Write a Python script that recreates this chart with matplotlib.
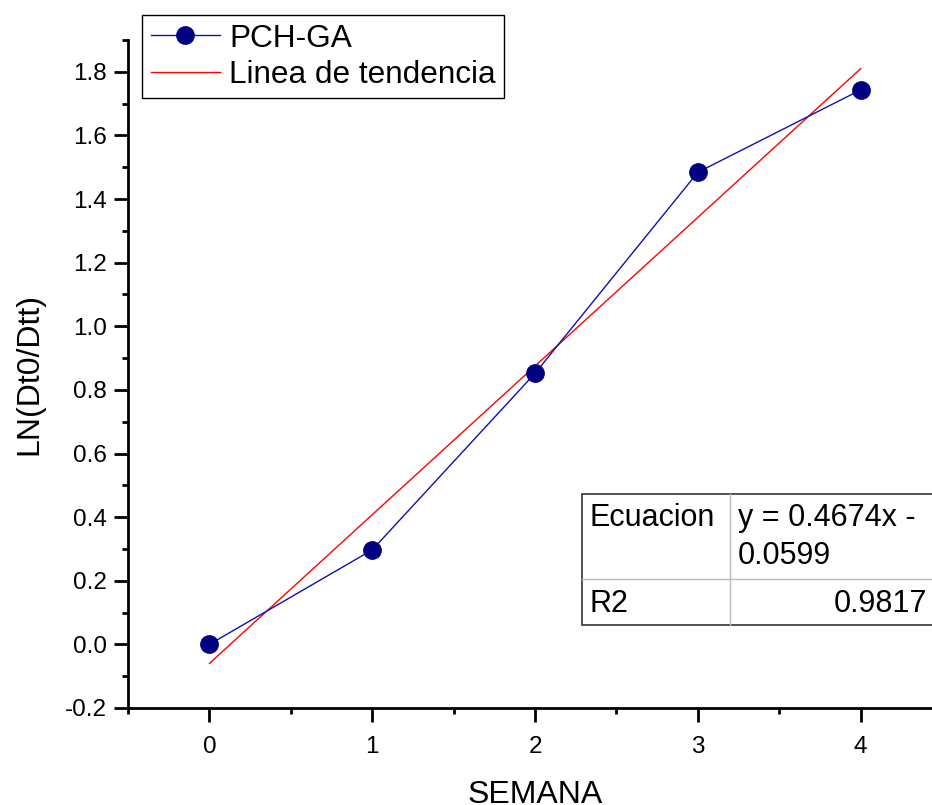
import matplotlib
matplotlib.use("Agg")
import matplotlib.pyplot as plt
from matplotlib.ticker import MultipleLocator
from matplotlib.lines import Line2D
from matplotlib.patches import Rectangle

plt.rcParams['font.family'] = ['Liberation Sans', 'DejaVu Sans']

# data
semana = [0, 1, 2, 3, 4]
ln_ratio = [0.0, 0.297, 0.852, 1.484, 1.743]
slope = 0.4674
intercept = -0.0599
fit_x = [0, 4]
table_rows = [("Ecuacion", "y = 0.4674x -\n0.0599"), ("R2", "0.9817")]

W, H = 932, 805
fig = plt.figure(figsize=(W / 100, H / 100), dpi=100)
ax = fig.add_axes([128 / W, 1 - 708 / H, (942 - 128) / W, (708 - 40) / H])

ax.plot(semana, ln_ratio, color='#1010b0', lw=1.0, marker='o', ms=12.5,
        mfc='#000080', mec='#000080', label='PCH-GA', zorder=3)
fit_y = [slope * x + intercept for x in fit_x]
ax.plot(fit_x, fit_y, color='#ff0000', lw=1.0, label='Linea de tendencia', zorder=2)

ax.set_xlim(-0.5, 4.5)
ax.set_ylim(-0.2, 1.9)
ax.xaxis.set_major_locator(MultipleLocator(1))
ax.xaxis.set_minor_locator(MultipleLocator(0.5))
ax.yaxis.set_major_locator(MultipleLocator(0.2))
ax.yaxis.set_minor_locator(MultipleLocator(0.1))
ax.yaxis.set_major_formatter(plt.FuncFormatter(lambda v, p: "%.1f" % v))

for s in ['top', 'right']:
    ax.spines[s].set_visible(False)
for s in ['left', 'bottom']:
    ax.spines[s].set_linewidth(2)
ax.tick_params(which='major', direction='out', length=10, width=2, labelsize=17.5, pad=5)
ax.tick_params(which='minor', direction='out', length=4.5, width=2)
ax.tick_params(axis='x', which='major', pad=10)

ax.set_xlabel('SEMANA', fontsize=23, labelpad=16)
ax.set_ylabel('LN(Dt0/Dtt)', fontsize=23, labelpad=15)

leg = ax.legend(loc='upper left', bbox_to_anchor=(142 / W, 1 - 15 / H),
                bbox_transform=fig.transFigure, fontsize=22.7, frameon=True,
                fancybox=False, edgecolor='black', framealpha=1, borderaxespad=0,
                borderpad=0.27, labelspacing=0.2, handlelength=2.2,
                handletextpad=0.3, numpoints=1)
leg.get_frame().set_linewidth(1.0)

# table in pixel coords
def fx(px):
    return px / W

def fy(py):
    return 1 - py / H

tl, tr, tt, tm, tb, tc = 582, 960, 494, 579, 625, 730
fig.patches.append(Rectangle((fx(tl), fy(tb)), fx(tr) - fx(tl), fy(tt) - fy(tb),
                             transform=fig.transFigure, facecolor='white',
                             edgecolor='#333333', lw=1.2, zorder=5))
fig.lines.append(Line2D([fx(tl), fx(tr)], [fy(tm), fy(tm)], transform=fig.transFigure,
                        color='#bbbbbb', lw=1.0, zorder=6))
fig.lines.append(Line2D([fx(tc), fx(tc)], [fy(tt), fy(tb)], transform=fig.transFigure,
                        color='#bbbbbb', lw=1.0, zorder=6))
fig.text(fx(590), fy(503), table_rows[0][0], fontsize=22, va='top', ha='left', zorder=7)
fig.text(fx(738), fy(503), table_rows[0][1], fontsize=22, va='top', ha='left',
         linespacing=1.35, zorder=7)
fig.text(fx(590), fy(589), table_rows[1][0], fontsize=22, va='top', ha='left', zorder=7)
fig.text(fx(927), fy(589), table_rows[1][1], fontsize=22, va='top', ha='right', zorder=7)

fig.savefig('out.png', dpi=100)
